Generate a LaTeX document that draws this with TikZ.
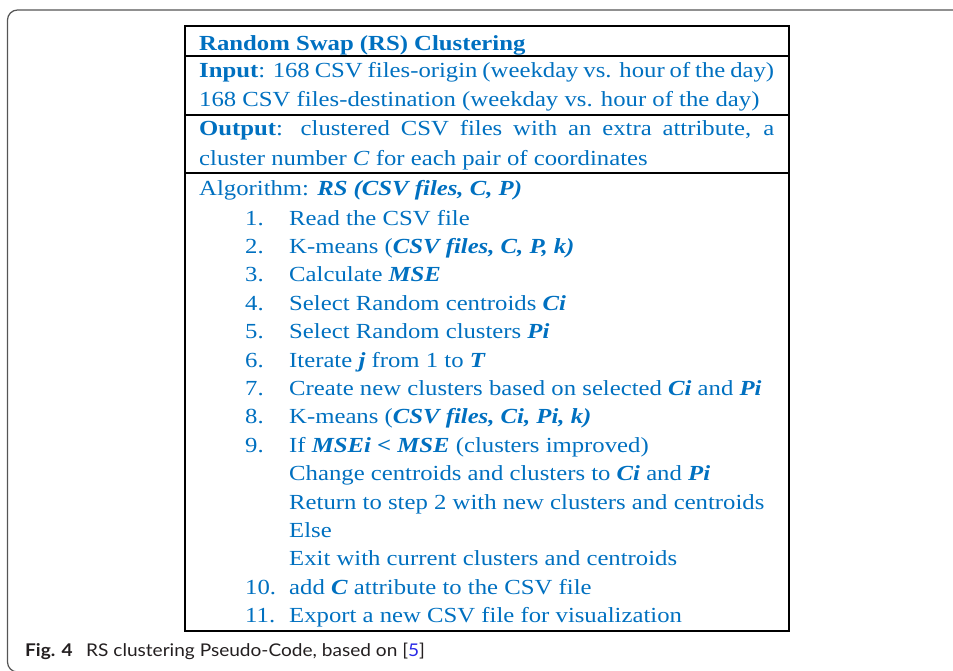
\documentclass[tikz,border=0pt]{standalone}
\usepackage{fontspec}
\setmainfont{Liberation Serif}[FakeStretch=1.15]
\newfontfamily\capfont{Lato}[FakeStretch=1.09]
\definecolor{txtblue}{RGB}{0,112,192}
\definecolor{framegray}{RGB}{85,85,85}
\definecolor{capblack}{RGB}{35,31,32}
\definecolor{linkblue}{RGB}{40,40,230}
\newcommand\bfit[1]{\textbf{\textit{#1}}}
\begin{document}
\begin{tikzpicture}[x=1pt,y=-1pt,
  txt/.style={anchor=base west, inner sep=0pt, text=txtblue, font=\fontsize{21.5}{26}\selectfont},
  num/.style={txt},
  rule/.style={line width=2pt, black},
  frame/.style={framegray, line width=1.2pt, rounded corners=10pt},
  captxt/.style={anchor=base west, inner sep=0pt, text=capblack, font=\capfont\fontsize{17.5}{20}\selectfont}]
\useasboundingbox (0,0) rectangle (953,670);
% outer frame
\coordinate (fa) at (965,10);
\coordinate (fb) at (7.5,10);
\coordinate (fc) at (7.5,672);
\coordinate (fd) at (40,672);
\draw[frame] (fa) -- (fb) -- (fc) -- (fd);
% table
\coordinate (tl) at (185,26);
\coordinate (br) at (789,631);
\draw[rule] (tl) rectangle (br);
\coordinate (r1a) at (185,55.7); \coordinate (r1b) at (789,55.7);
\coordinate (r2a) at (185,115);  \coordinate (r2b) at (789,115);
\coordinate (r3a) at (185,173);  \coordinate (r3b) at (789,173);
\draw[rule] (r1a) -- (r1b);
\draw[rule] (r2a) -- (r2b);
\draw[rule] (r3a) -- (r3b);
% header
\node[txt] (title) at (199,50) {\textbf{Random Swap (RS) Clustering}};
\node[txt] (in1) at (199,77) {\makebox[575pt][s]{\textbf{Input}: 168 CSV files-origin (weekday vs. hour of the day)}};
\node[txt] (in2) at (199,106) {168 CSV files-destination (weekday vs. hour of the day)};
\node[txt] (out1) at (199,135) {\makebox[575pt][s]{\textbf{Output}: clustered CSV files with an extra attribute, a}};
\node[txt] (out2) at (199,165) {cluster number \textit{C} for each pair of coordinates};
\node[txt] (alg) at (199,195.5) {Algorithm: \bfit{RS (CSV files, C, P)}};
% steps
\node[num] (n1) at (245,225) {1.};
\node[txt] (s1) at (289,225) {Read the CSV file};
\node[num] (n2) at (245,253.4) {2.};
\node[txt] (s2) at (289,253.4) {K-means (\bfit{CSV files, C, P, k)}};
\node[num] (n3) at (245,281.8) {3.};
\node[txt] (s3) at (289,281.8) {Calculate \bfit{MSE}};
\node[num] (n4) at (245,310.2) {4.};
\node[txt] (s4) at (289,310.2) {Select Random centroids \bfit{Ci}};
\node[num] (n5) at (245,338.6) {5.};
\node[txt] (s5) at (289,338.6) {Select Random clusters \bfit{Pi}};
\node[num] (n6) at (245,367) {6.};
\node[txt] (s6) at (289,367) {Iterate \bfit{j} from 1 to \bfit{T}};
\node[num] (n7) at (245,395.4) {7.};
\node[txt] (s7) at (289,395.4) {Create new clusters based on selected \bfit{Ci} and \bfit{Pi}};
\node[num] (n8) at (245,423.8) {8.};
\node[txt] (s8) at (289,423.8) {K-means (\bfit{CSV files, Ci, Pi, k)}};
\node[num] (n9) at (245,452.2) {9.};
\node[txt] (s9) at (289,452.2) {If \bfit{MSEi < MSE} (clusters improved)};
\node[txt] (s9a) at (289,480.6) {Change centroids and clusters to \bfit{Ci} and \bfit{Pi}};
\node[txt] (s9b) at (289,509) {Return to step 2 with new clusters and centroids};
\node[txt] (s9c) at (289,537.4) {Else};
\node[txt] (s9d) at (289,565.8) {Exit with current clusters and centroids};
\node[num] (n10) at (245,594.2) {10.};
\node[txt] (s10) at (289,594.2) {add \bfit{C} attribute to the CSV file};
\node[num] (n11) at (245,622.6) {11.};
\node[txt] (s11) at (289,622.6) {Export a new CSV file for visualization};
% caption
\node[captxt] (figlab) at (25,656.5) {\textbf{Fig. 4}};
\node[captxt] (cap) at (86,656.5) {RS clustering Pseudo-Code, based on [\textcolor{linkblue}{5}]};
\end{tikzpicture}
\end{document}
